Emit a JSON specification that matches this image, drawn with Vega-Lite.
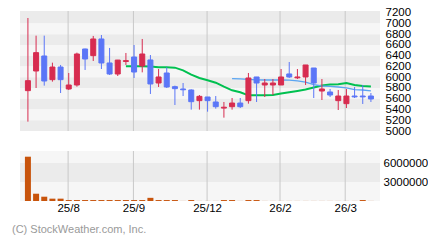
{
  "$schema": "https://vega.github.io/schema/vega-lite/v6.json",
  "padding": {"left": 12, "top": 6, "right": 0, "bottom": 0},
  "background": "white",
  "bounds": "flush",
  "spacing": 20,
  "config": {"view": {"stroke": null}, "font": "Liberation Sans", "axis": {"labelOverlap": false}},
  "title": {"text": "(C) StockWeather.com, Inc.", "orient": "bottom", "anchor": "start", "dx": -8, "offset": 10, "fontSize": 11, "fontWeight": "normal", "color": "#9a9a9a", "font": "Liberation Sans"},
  "datasets": {
    "bands": [
      {"lo": 7000, "hi": 7230, "s": "d"}, {"lo": 6800, "hi": 7000, "s": "l"}, {"lo": 6600, "hi": 6800, "s": "d"},
      {"lo": 6400, "hi": 6600, "s": "l"}, {"lo": 6200, "hi": 6400, "s": "d"}, {"lo": 6000, "hi": 6200, "s": "l"},
      {"lo": 5800, "hi": 6000, "s": "d"}, {"lo": 5600, "hi": 5800, "s": "l"}, {"lo": 5400, "hi": 5600, "s": "d"},
      {"lo": 5200, "hi": 5400, "s": "l"}, {"lo": 5000, "hi": 5200, "s": "d"}
    ],
    "vbands": [
      {"lo": 0, "hi": 3000000, "s": "l"}, {"lo": 3000000, "hi": 6000000, "s": "d"}, {"lo": 6000000, "hi": 7900000, "s": "l"}
    ],
    "grid": [{"g": 4.92, "t": "25/8"}, {"g": 12.92, "t": "25/9"}, {"g": 21.94, "t": "25/12"}, {"g": 30.87, "t": "26/2"}, {"g": 38.85, "t": "26/3"}],
    "w": [
      {"i": 0, "o": 5750, "h": 7100, "l": 5174, "c": 5935, "d": "u", "v": 7000000, "m13": null, "m26": null},
      {"i": 1, "o": 6115, "h": 6772, "l": 5799, "c": 6456, "d": "u", "v": 1150000, "m13": null, "m26": null},
      {"i": 2, "o": 6394, "h": 6772, "l": 5843, "c": 5929, "d": "d", "v": 680000, "m13": null, "m26": null},
      {"i": 3, "o": 5954, "h": 6270, "l": 5917, "c": 6189, "d": "u", "v": 370000, "m13": null, "m26": null},
      {"i": 4, "o": 6189, "h": 6227, "l": 5706, "c": 5954, "d": "d", "v": 370000, "m13": null, "m26": null},
      {"i": 5, "o": 5781, "h": 6078, "l": 5762, "c": 5855, "d": "u", "v": 150000, "m13": null, "m26": null},
      {"i": 6, "o": 5855, "h": 6456, "l": 5824, "c": 6431, "d": "u", "v": 150000, "m13": null, "m26": null},
      {"i": 7, "o": 6524, "h": 6530, "l": 6134, "c": 6338, "d": "d", "v": 150000, "m13": null, "m26": null},
      {"i": 8, "o": 6400, "h": 6766, "l": 6301, "c": 6710, "d": "u", "v": 150000, "m13": null, "m26": null},
      {"i": 9, "o": 6710, "h": 6784, "l": 6152, "c": 6264, "d": "d", "v": 150000, "m13": null, "m26": null},
      {"i": 10, "o": 6264, "h": 6543, "l": 6041, "c": 6059, "d": "d", "v": 150000, "m13": null, "m26": null},
      {"i": 11, "o": 6059, "h": 6320, "l": 6022, "c": 6318, "d": "u", "v": 150000, "m13": null, "m26": null},
      {"i": 12, "o": 6292, "h": 6450, "l": 6227, "c": 6308, "d": "u", "v": 150000, "m13": 6202, "m26": null},
      {"i": 13, "o": 6375, "h": 6598, "l": 5985, "c": 6096, "d": "d", "v": 150000, "m13": 6202, "m26": null},
      {"i": 14, "o": 6208, "h": 6710, "l": 6090, "c": 6431, "d": "u", "v": 150000, "m13": 6202, "m26": null},
      {"i": 15, "o": 6320, "h": 6412, "l": 5688, "c": 5874, "d": "d", "v": 500000, "m13": 6200, "m26": null},
      {"i": 16, "o": 5892, "h": 6152, "l": 5818, "c": 6004, "d": "u", "v": 150000, "m13": 6183, "m26": null},
      {"i": 17, "o": 6078, "h": 6183, "l": 5799, "c": 5818, "d": "d", "v": 150000, "m13": 6183, "m26": null},
      {"i": 18, "o": 5824, "h": 5843, "l": 5483, "c": 5787, "d": "d", "v": 150000, "m13": 6177, "m26": null},
      {"i": 19, "o": 5781, "h": 5892, "l": 5650, "c": 5766, "d": "d", "v": 10000, "m13": 6128, "m26": null},
      {"i": 20, "o": 5762, "h": 5774, "l": 5397, "c": 5545, "d": "d", "v": 150000, "m13": 6047, "m26": null},
      {"i": 21, "o": 5564, "h": 5669, "l": 5397, "c": 5644, "d": "u", "v": 10000, "m13": 5985, "m26": null},
      {"i": 22, "o": 5632, "h": 5632, "l": 5359, "c": 5564, "d": "d", "v": 10000, "m13": 5942, "m26": null},
      {"i": 23, "o": 5539, "h": 5650, "l": 5415, "c": 5452, "d": "d", "v": 10000, "m13": 5898, "m26": null},
      {"i": 24, "o": 5426, "h": 5539, "l": 5248, "c": 5442, "d": "u", "v": 150000, "m13": 5824, "m26": null},
      {"i": 25, "o": 5452, "h": 5613, "l": 5397, "c": 5520, "d": "u", "v": 150000, "m13": 5756, "m26": 5975},
      {"i": 26, "o": 5520, "h": 5613, "l": 5427, "c": 5452, "d": "d", "v": 10000, "m13": 5719, "m26": 5968},
      {"i": 27, "o": 5564, "h": 6078, "l": 5508, "c": 5985, "d": "u", "v": 150000, "m13": 5663, "m26": 5960},
      {"i": 28, "o": 6004, "h": 6004, "l": 5539, "c": 5892, "d": "d", "v": 150000, "m13": 5663, "m26": 5950},
      {"i": 29, "o": 5855, "h": 5966, "l": 5632, "c": 5892, "d": "u", "v": 10000, "m13": 5663, "m26": 5948},
      {"i": 30, "o": 5855, "h": 5966, "l": 5669, "c": 5892, "d": "u", "v": 10000, "m13": 5669, "m26": 5948},
      {"i": 31, "o": 5855, "h": 6152, "l": 5855, "c": 6004, "d": "u", "v": 10000, "m13": 5697, "m26": 5948},
      {"i": 32, "o": 6060, "h": 6282, "l": 5985, "c": 6004, "d": "d", "v": 10000, "m13": 5722, "m26": 5945},
      {"i": 33, "o": 5988, "h": 6152, "l": 5966, "c": 6004, "d": "u", "v": 10000, "m13": 5745, "m26": 5932},
      {"i": 34, "o": 6004, "h": 6227, "l": 5855, "c": 6227, "d": "u", "v": 10000, "m13": 5770, "m26": 5910},
      {"i": 35, "o": 6171, "h": 6171, "l": 5613, "c": 5892, "d": "d", "v": 10000, "m13": 5810, "m26": 5860},
      {"i": 36, "o": 5743, "h": 5966, "l": 5576, "c": 5781, "d": "u", "v": 10000, "m13": 5845, "m26": 5836},
      {"i": 37, "o": 5725, "h": 5781, "l": 5632, "c": 5669, "d": "d", "v": 10000, "m13": 5862, "m26": 5828},
      {"i": 38, "o": 5564, "h": 5762, "l": 5390, "c": 5650, "d": "u", "v": 10000, "m13": 5870, "m26": 5818},
      {"i": 39, "o": 5508, "h": 5781, "l": 5427, "c": 5650, "d": "u", "v": 10000, "m13": 5890, "m26": 5800},
      {"i": 40, "o": 5650, "h": 5818, "l": 5613, "c": 5634, "d": "d", "v": 10000, "m13": 5855, "m26": 5770},
      {"i": 41, "o": 5650, "h": 5855, "l": 5502, "c": 5634, "d": "d", "v": 150000, "m13": 5835, "m26": 5762},
      {"i": 42, "o": 5650, "h": 5706, "l": 5539, "c": 5595, "d": "d", "v": 10000, "m13": 5825, "m26": 5745}
    ]
  },
  "vconcat": [
    {
      "width": 360,
      "height": 120,
      "layer": [
        {
          "data": {"name": "bands"},
          "mark": {"type": "rect"},
          "encoding": {
            "y": {"field": "lo", "type": "quantitative", "scale": {"domain": [5000, 7230], "nice": false, "zero": false},
              "axis": {"orient": "right", "values": [5000, 5200, 5400, 5600, 5800, 6000, 6200, 6400, 6600, 6800, 7000, 7200], "tickCount": 30, "format": "d", "labelOverlap": false, "grid": false, "domain": false, "ticks": false, "labelPadding": 5, "labelFontSize": 11.5, "labelColor": "#000000", "labelFont": "Liberation Sans", "title": null}},
            "y2": {"field": "hi"},
            "color": {"field": "s", "type": "nominal", "scale": {"domain": ["d", "l"], "range": ["#ebebeb", "#f6f6f6"]}, "legend": null}
          }
        },
        {
          "data": {"name": "grid"},
          "mark": {"type": "rule", "color": "#c8c8c8", "strokeWidth": 1},
          "encoding": {"x": {"field": "g", "type": "quantitative", "scale": {"domain": [-0.357, 42.5], "nice": false, "zero": false}, "axis": null}}
        },
        {
          "data": {"name": "w"},
          "mark": {"type": "line", "color": "#00c050", "strokeWidth": 2},
          "encoding": {
            "x": {"field": "i", "type": "quantitative"},
            "y": {"field": "m13", "type": "quantitative"}
          }
        },
        {
          "data": {"name": "w"},
          "mark": {"type": "line", "color": "#5aa5f2", "strokeWidth": 1.3},
          "encoding": {
            "x": {"field": "i", "type": "quantitative"},
            "y": {"field": "m26", "type": "quantitative"}
          }
        },
        {
          "data": {"name": "w"},
          "mark": {"type": "rule", "strokeWidth": 1},
          "encoding": {
            "x": {"field": "i", "type": "quantitative"},
            "y": {"field": "l", "type": "quantitative"},
            "y2": {"field": "h"},
            "stroke": {"field": "d", "type": "nominal", "scale": {"domain": ["u", "d"], "range": ["#d72c50", "#5b76f7"]}, "legend": null}
          }
        },
        {
          "data": {"name": "w"},
          "mark": {"type": "bar", "size": 5, "strokeWidth": 1},
          "encoding": {
            "x": {"field": "i", "type": "quantitative"},
            "y": {"field": "o", "type": "quantitative"},
            "y2": {"field": "c"},
            "fill": {"field": "d", "type": "nominal", "scale": {"domain": ["u", "d"], "range": ["#d72c50", "#5b76f7"]}, "legend": null},
            "stroke": {"field": "d", "type": "nominal", "legend": null}
          }
        }
      ]
    },
    {
      "width": 360,
      "height": 50,
      "layer": [
        {
          "data": {"name": "vbands"},
          "mark": {"type": "rect"},
          "encoding": {
            "y": {"field": "lo", "type": "quantitative", "scale": {"domain": [0, 7900000], "nice": false},
              "axis": {"orient": "right", "values": [3000000, 6000000], "tickCount": 10, "format": "d", "labelOverlap": false, "grid": false, "domain": false, "ticks": false, "labelPadding": 3, "labelFontSize": 11.5, "labelColor": "#000000", "labelFont": "Liberation Sans", "title": null}},
            "y2": {"field": "hi"},
            "color": {"field": "s", "type": "nominal", "scale": {"domain": ["d", "l"], "range": ["#ebebeb", "#f6f6f6"]}, "legend": null}
          }
        },
        {
          "data": {"name": "grid"},
          "mark": {"type": "rule", "color": "#c8c8c8", "strokeWidth": 1},
          "encoding": {"x": {"field": "g", "type": "quantitative", "scale": {"domain": [-0.357, 42.5], "nice": false, "zero": false},
            "axis": {"values": [4.92, 12.92, 21.94, 30.87, 38.85], "tickCount": 20, "labelExpr": "datum.value < 8 ? '25/8' : datum.value < 16 ? '25/9' : datum.value < 25 ? '25/12' : datum.value < 34 ? '26/2' : '26/3'", "grid": false, "domain": false, "ticks": false, "labelPadding": 1, "labelFontSize": 11.5, "labelColor": "#000000", "labelFont": "Liberation Sans", "labelOverlap": false, "labelFlush": false, "title": null}}}
        },
        {
          "data": {"name": "w"},
          "mark": {"type": "bar", "size": 6, "color": "#c8540c"},
          "encoding": {
            "x": {"field": "i", "type": "quantitative"},
            "y": {"field": "v", "type": "quantitative"}
          }
        }
      ]
    }
  ]
}
